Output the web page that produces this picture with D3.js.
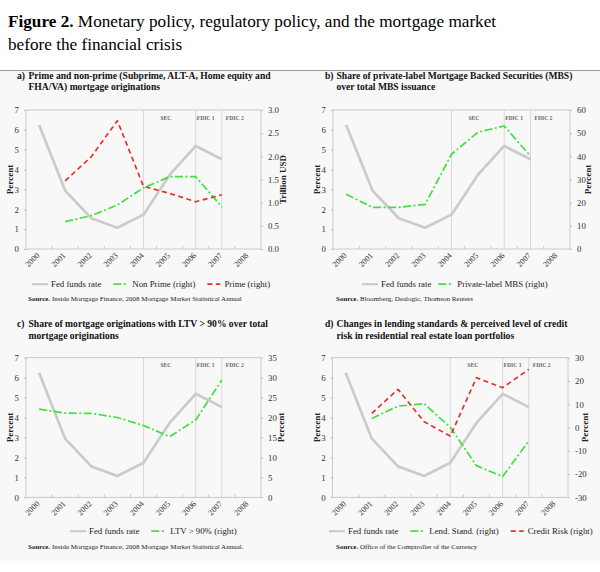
<!DOCTYPE html>
<html><head><meta charset="utf-8">
<script src="https://cdn.jsdelivr.net/npm/d3@7/dist/d3.min.js"></script>
<style>
html,body{margin:0;padding:0;background:#fff;}
svg{display:block;}
text{font-family:"Liberation Serif","Times New Roman",serif;}
</style></head>
<body>
<svg id="c" width="600" height="572"></svg>
<script>
// ---- data ----
const years = ["2000","2001","2002","2003","2004","2005","2006","2007","2008"];
const fedFunds   = [6.24, 2.94, 1.55, 1.07, 1.73, 3.73, 5.19, 4.52];
const nonPrime   = [null, 0.59, 0.72, 0.95, 1.32, 1.56, 1.56, 0.91];
const prime      = [null, 1.47, 1.99, 2.77, 1.35, 1.20, 1.02, 1.17];
const privateMBS = [23.6, 18.0, 18.0, 19.3, 40.9, 50.4, 53.1, 40.1];
const ltv90      = [22.1, 21.1, 21.05, 20.0, 18.0, 15.2, 19.4, 29.4];
const lendStand  = [null, 3.9, 9.2, 10.2, 0.1, -16.4, -21.1, -5.8];
const creditRisk = [null, 6.1, 16.4, 2.5, -3.7, 21.4, 17.1, 25.0];
const leftTicks  = [0,1,2,3,4,5,6,7];
const ticksA = [0.0,0.5,1.0,1.5,2.0,2.5,3.0];
const ticksB = [0,10,20,30,40,50,60];
const ticksC = [0,5,10,15,20,25,30,35];
const ticksD = [-30,-20,-10,0,10,20,30];
const eventYears  = ["2004","2006","2007"];
const eventLabels = ["SEC","FDIC 1","FDIC 2"];

// ---- styles ----
const GRAY = "#cbcbcb", GREEN = "#3de23d", RED = "#e5332a";
const styles = {
  fed:   {stroke: GRAY, width: 2.7, dash: null},
  green: {stroke: GREEN, width: 1.7, dash: "8,2.5,2,2.5"},
  red:   {stroke: RED, width: 1.7, dash: "5,3.5"}
};

const svg = d3.select("#c");

// background box
svg.append("rect").attr("x",0).attr("y",70).attr("width",600).attr("height",491).attr("fill","#f8f8f8");
svg.append("line").attr("x1",0).attr("x2",600).attr("y1",70.5).attr("y2",70.5).attr("stroke","#9a9a9a").attr("stroke-width",1);

// figure title
const t1 = svg.append("text").attr("x",8).attr("y",27).attr("font-size",17.2).attr("fill","#000");
t1.append("tspan").attr("font-weight","bold").text("Figure 2.");
t1.append("tspan").text(" Monetary policy, regulatory policy, and the mortgage market");
svg.append("text").attr("x",8).attr("y",49.5).attr("font-size",17.2).attr("fill","#000").text("before the financial crisis");

const minusFix = f => (d => f(d).replace("\u2212","-"));

function panel(cfg){
  const g = svg.append("g");
  const x = d3.scalePoint().domain(years).range([cfg.left, cfg.right]).padding(0.5);
  const step = x.step();
  const yL = d3.scaleLinear().domain([0,7]).range([cfg.bottom, cfg.top]);
  const yR = d3.scaleLinear().domain(cfg.rDomain).range([cfg.bottom, cfg.top]);

  // title
  g.append("text").attr("x",cfg.tx).attr("y",cfg.ty).attr("font-size",9.6).attr("font-weight","bold").attr("fill","#111").text(cfg.letter);
  cfg.title.forEach((s,i)=>{
    g.append("text").attr("x",cfg.tx+11.5).attr("y",cfg.ty+11.5*i).attr("font-size",9.6).attr("font-weight","bold").attr("fill","#111").text(s);
  });

  // frame
  g.append("rect").attr("x",cfg.left).attr("y",cfg.top).attr("width",cfg.right-cfg.left).attr("height",cfg.bottom-cfg.top)
    .attr("fill","none").attr("stroke","#bdbdbd").attr("stroke-width",0.8);

  // event lines
  eventYears.forEach((yr,i)=>{
    const xx = x(yr);
    g.append("line").attr("x1",xx).attr("x2",xx).attr("y1",cfg.top).attr("y2",cfg.bottom).attr("stroke","#d0d0d0").attr("stroke-width",0.8);
    const off = [17,1,4][i];
    g.append("text").attr("x",xx+off).attr("y",cfg.top+9.5).attr("font-size",5.6).attr("font-weight","bold").attr("fill","#666").text(eventLabels[i]);
  });

  // x ticks at band boundaries
  years.slice(1).forEach(yr=>{
    const xx = x(yr)-step/2;
    g.append("line").attr("x1",xx).attr("x2",xx).attr("y1",cfg.bottom).attr("y2",cfg.bottom-3).attr("stroke","#bdbdbd").attr("stroke-width",0.8);
  });
  // x labels
  years.forEach(yr=>{
    const xx = x(yr)+1, yy = cfg.bottom+7;
    g.append("text").attr("transform",`translate(${xx},${yy}) rotate(-45)`).attr("text-anchor","end")
      .attr("font-size",8.2).attr("fill","#333").text(yr);
  });

  // left axis
  const la = g.append("g").attr("transform",`translate(${cfg.left},0)`)
    .call(d3.axisLeft(yL).tickValues(leftTicks).tickSize(2).tickPadding(5).tickFormat(d3.format("d")));
  la.select(".domain").remove();
  la.selectAll("line").attr("stroke","#bdbdbd");
  la.selectAll("text").attr("font-size",8.8).attr("fill","#333").attr("font-family","Liberation Serif");
  // right axis
  const ra = g.append("g").attr("transform",`translate(${cfg.right},0)`)
    .call(d3.axisRight(yR).tickValues(cfg.rTicks).tickSize(2).tickPadding(5).tickFormat(minusFix(cfg.rFormat)));
  ra.select(".domain").remove();
  ra.selectAll("line").attr("stroke","#bdbdbd");
  ra.selectAll("text").attr("font-size",8.8).attr("fill","#333").attr("font-family","Liberation Serif");

  // axis titles
  g.append("text").attr("transform",`translate(${cfg.lTitleX},${(cfg.top+cfg.bottom)/2}) rotate(-90)`)
    .attr("text-anchor","middle").attr("dominant-baseline","middle").attr("font-size",9).attr("font-weight","bold").attr("fill","#222").text("Percent");
  g.append("text").attr("transform",`translate(${cfg.rTitleX},${(cfg.top+cfg.bottom)/2}) rotate(-90)`)
    .attr("text-anchor","middle").attr("dominant-baseline","middle").attr("font-size",9).attr("font-weight","bold").attr("fill","#222").text(cfg.rTitle);

  // series
  const drawSeries = (vals, scale, st) => {
    const line = d3.line().defined(d=>d.v!=null).x(d=>x(d.yr)).y(d=>scale(d.v));
    const data = vals.map((v,i)=>({yr:years[i], v}));
    g.append("path").datum(data).attr("d",line).attr("fill","none")
      .attr("stroke",st.stroke).attr("stroke-width",st.width)
      .attr("stroke-dasharray",st.dash).attr("stroke-linejoin","round");
  };
  drawSeries(fedFunds, yL, styles.fed);
  cfg.series.forEach(s=>drawSeries(s.values, yR, styles[s.style]));

  // legend
  const items = [{label:"Fed funds rate", style:"fed"}].concat(cfg.series.map(s=>({label:s.label, style:s.style})));
  let lx = cfg.legendX;
  const ly = cfg.legendY;
  items.forEach((it,i)=>{
    const st = styles[it.style];
    const len = it.style==="fed" ? 16 : (it.style==="green" ? 15 : 13);
    g.append("line").attr("x1",lx).attr("x2",lx+len).attr("y1",ly-2.8).attr("y2",ly-2.8)
      .attr("stroke",st.stroke).attr("stroke-width",it.style==="fed"?2.2:1.8).attr("stroke-dasharray",st.dash);
    const tx = lx+len+(it.style==="fed"?3:4);
    const t = g.append("text").attr("x",tx).attr("y",ly).attr("font-size",8.8).attr("fill","#222").text(it.label);
    lx = tx + t.node().getComputedTextLength() + cfg.legendGap;
  });

  // source
  const s = g.append("text").attr("x",cfg.srcX).attr("y",cfg.srcY).attr("font-size",7).attr("fill","#222");
  s.append("tspan").attr("font-weight","bold").text("Source.");
  s.append("tspan").text(" "+cfg.source);
}

panel({
  letter:"a)", title:["Prime and non-prime (Subprime, ALT-A, Home equity and","FHA/VA) mortgage originations"],
  tx:17, ty:78.5, left:26, right:261, top:110, bottom:249,
  rDomain:[0,3], rTicks:ticksA, rFormat:d3.format(".1f"), rTitle:"Trillion USD",
  lTitleX:10.5, rTitleX:284,
  series:[{values:nonPrime, style:"green", label:"Non Prime (right)"},{values:prime, style:"red", label:"Prime (right)"}],
  legendX:32, legendY:287, legendGap:12,
  srcX:28, srcY:301, source:"Inside Mortgage Finance, 2008 Mortgage Market Statistical Annual"
});
panel({
  letter:"b)", title:["Share of private-label Mortgage Backed Securities (MBS)","over total MBS issuance"],
  tx:325, ty:78.5, left:333, right:570, top:110, bottom:249,
  rDomain:[0,60], rTicks:ticksB, rFormat:d3.format("d"), rTitle:"Percent",
  lTitleX:317.5, rTitleX:589,
  series:[{values:privateMBS, style:"green", label:"Private-label MBS (right)"}],
  legendX:362, legendY:287, legendGap:7,
  srcX:336, srcY:301, source:"Bloomberg, Dealogic, Thomson Reuters"
});
panel({
  letter:"c)", title:["Share of mortgage originations with LTV > 90% over total","mortgage originations"],
  tx:17, ty:327, left:26, right:261, top:357.7, bottom:497.3,
  rDomain:[0,35], rTicks:ticksC, rFormat:d3.format("d"), rTitle:"Percent",
  lTitleX:10.5, rTitleX:282,
  series:[{values:ltv90, style:"green", label:"LTV > 90% (right)"}],
  legendX:70, legendY:534, legendGap:12,
  srcX:28, srcY:549, source:"Inside Mortgage Finance, 2008 Mortgage Market Statistical Annual."
});
panel({
  letter:"d)", title:["Changes in lending standards & perceived level of credit","risk in residential real estate loan portfolios"],
  tx:325, ty:327, left:332.6, right:568, top:357.7, bottom:497.3,
  rDomain:[-30,30], rTicks:ticksD, rFormat:d3.format("d"), rTitle:"Percent",
  lTitleX:317.5, rTitleX:586,
  series:[{values:lendStand, style:"green", label:"Lend. Stand. (right)"},{values:creditRisk, style:"red", label:"Credit Risk (right)"}],
  legendX:329, legendY:534, legendGap:12,
  srcX:336, srcY:549, source:"Office of the Comptroller of the Currency"
});
</script>
</body></html>
